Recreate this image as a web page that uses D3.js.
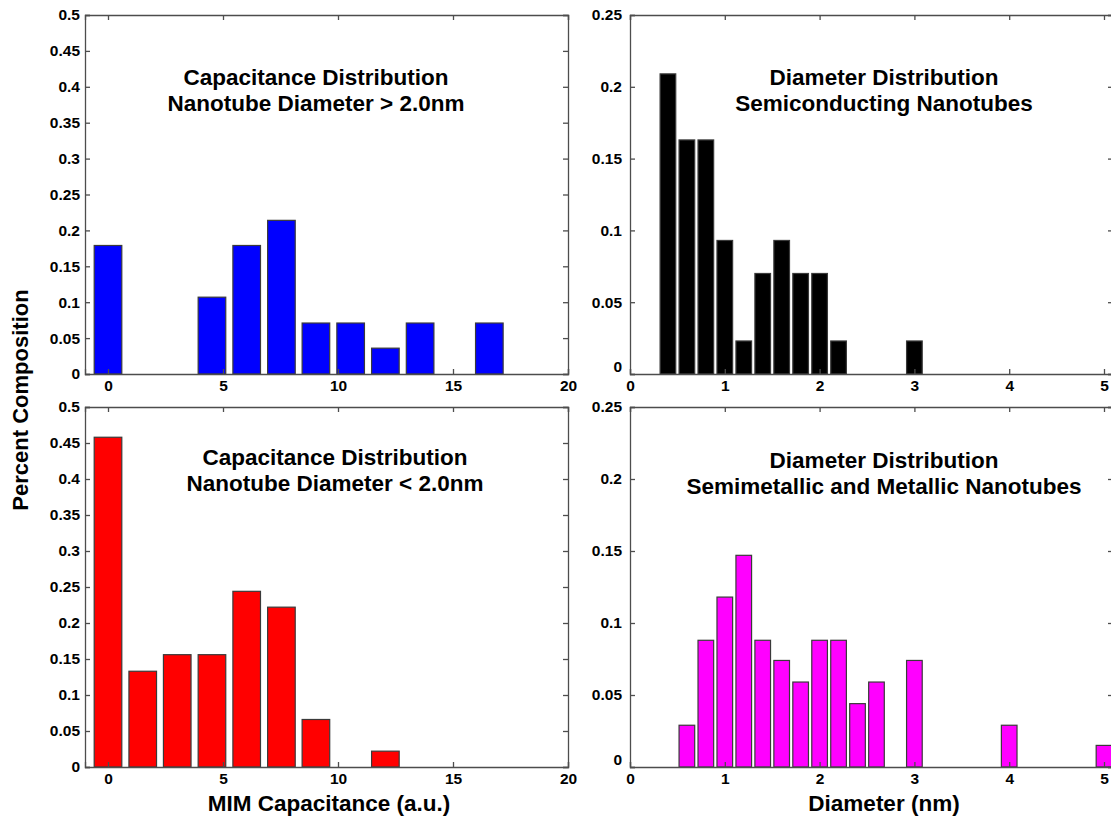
<!DOCTYPE html>
<html>
<head>
<meta charset="utf-8">
<script src="https://cdn.jsdelivr.net/npm/d3@7"></script>
<style>
  html, body { margin: 0; padding: 0; background: #fff; overflow: hidden; }
  svg { display: block; font-family: "Liberation Sans", Arial, sans-serif; }
</style>
</head>
<body>
<svg id="chart" width="1111" height="818"></svg>
<script>
// ---------- data ----------
const capBins = [0, 1.51, 3.01, 4.52, 6.03, 7.54, 9.04, 10.55, 12.06, 13.57, 15.07, 16.58];
const capLarge = [0.179, 0, 0, 0.107, 0.179, 0.214, 0.071, 0.071, 0.036, 0.071, 0, 0.071];
const capSmall = [0.458, 0.133, 0.156, 0.156, 0.244, 0.222, 0.066, 0, 0.022, 0, 0, 0];

const semiX = [0.4, 0.6, 0.8, 1.0, 1.2, 1.4, 1.6, 1.8, 2.0, 2.2, 3.0];
const semiY = [0.209, 0.163, 0.163, 0.093, 0.023, 0.070, 0.093, 0.070, 0.070, 0.023, 0.023];

const metX = [0.6, 0.8, 1.0, 1.2, 1.4, 1.6, 1.8, 2.0, 2.2, 2.4, 2.6, 3.0, 4.0, 5.0];
const metY = [0.029, 0.088, 0.118, 0.147, 0.088, 0.074, 0.059, 0.088, 0.088, 0.044, 0.059, 0.074, 0.029, 0.015];

const capXTicks = [0, 5, 10, 15, 20];
const diamXTicks = [0, 1, 2, 3, 4, 5];
const capYTicks = [0, 0.05, 0.1, 0.15, 0.2, 0.25, 0.3, 0.35, 0.4, 0.45, 0.5];
const diamYTicks = [0, 0.05, 0.1, 0.15, 0.2, 0.25];

const titles = {
  tl: ["Capacitance Distribution", "Nanotube Diameter > 2.0nm"],
  tr: ["Diameter Distribution", "Semiconducting Nanotubes"],
  bl: ["Capacitance Distribution", "Nanotube Diameter < 2.0nm"],
  br: ["Diameter Distribution", "Semimetallic and Metallic Nanotubes"]
};
const yLabel = "Percent Composition";
const xLabelCap = "MIM Capacitance (a.u.)";
const xLabelDiam = "Diameter (nm)";

// ---------- drawing ----------
const svg = d3.select("#chart");
const axisColor = "#4d4d4d";
const titleSize = 22.5;

function panel(cfg) {
  const {left, right, top, bottom, xDomain, yDomain, xTicks, yTicks, xs, ys, barW, color, title, titleX, titleY, zeroShift} = cfg;
  const x = d3.scaleLinear().domain(xDomain).range([left, right]);
  const y = d3.scaleLinear().domain(yDomain).range([bottom, top]);
  const g = svg.append("g");

  // bars
  const data = xs.map((v, i) => ({x: v, y: ys[i]})).filter(d => d.y > 0);
  g.selectAll("rect.bar").data(data).join("rect")
    .attr("class", "bar")
    .attr("x", d => x(d.x - barW / 2))
    .attr("width", d => x(d.x + barW / 2) - x(d.x - barW / 2))
    .attr("y", d => y(d.y))
    .attr("height", d => y(0) - y(d.y))
    .attr("fill", color)
    .attr("stroke", "#3a3a3a")
    .attr("stroke-width", 1.2);

  const tickLen = 5;
  const fmt = d => String(d);
  const bottomAx = g.append("g").attr("transform", `translate(0,${bottom})`)
    .call(d3.axisBottom(x).tickValues(xTicks).tickSize(-tickLen).tickPadding(6).tickFormat(fmt));
  const topAx = g.append("g").attr("transform", `translate(0,${top})`)
    .call(d3.axisTop(x).tickValues(xTicks).tickSize(-tickLen).tickFormat(""));
  const leftAx = g.append("g").attr("transform", `translate(${left},0)`)
    .call(d3.axisLeft(y).tickValues(yTicks).tickSize(-tickLen).tickPadding(zeroShift ? 8 : 5).tickFormat(fmt));
  const rightAx = g.append("g").attr("transform", `translate(${right},0)`)
    .call(d3.axisRight(y).tickValues(yTicks).tickSize(-tickLen).tickFormat(""));

  [bottomAx, topAx, leftAx, rightAx].forEach(a => {
    a.select(".domain").attr("stroke", axisColor).attr("stroke-width", 1.3);
    a.selectAll(".tick line").attr("stroke", axisColor).attr("stroke-width", 1.3);
    a.selectAll("text").attr("fill", "#000").attr("font-size", 15.5).attr("font-weight", "bold")
      .attr("font-family", "'Liberation Sans', Arial, sans-serif");
  });
  if (zeroShift) {
    leftAx.selectAll(".tick").filter(d => d === 0).select("text").attr("dy", "-0.15em");
  }

  // title
  g.append("text").attr("x", titleX).attr("y", titleY).attr("text-anchor", "middle")
    .attr("font-size", titleSize).attr("font-weight", "bold").text(title[0]);
  g.append("text").attr("x", titleX).attr("y", titleY + 26).attr("text-anchor", "middle")
    .attr("font-size", titleSize).attr("font-weight", "bold").text(title[1]);
}

panel({left: 85, right: 568, top: 15, bottom: 374, xDomain: [-1, 20], yDomain: [0, 0.5],
  xTicks: capXTicks, yTicks: capYTicks, xs: capBins, ys: capLarge, barW: 1.2, color: "#0000ff",
  title: titles.tl, titleX: 316, titleY: 85});
panel({left: 85, right: 568, top: 407, bottom: 767, xDomain: [-1, 20], yDomain: [0, 0.5],
  xTicks: capXTicks, yTicks: capYTicks, xs: capBins, ys: capSmall, barW: 1.2, color: "#ff0000",
  title: titles.bl, titleX: 335, titleY: 465});
panel({left: 630, right: 1113, top: 15, bottom: 374, xDomain: [0, 5.095], yDomain: [0, 0.25],
  xTicks: diamXTicks, yTicks: diamYTicks, xs: semiX, ys: semiY, barW: 0.165, color: "#000000",
  title: titles.tr, titleX: 884, titleY: 85, zeroShift: true});
panel({left: 630, right: 1113, top: 407, bottom: 767, xDomain: [0, 5.095], yDomain: [0, 0.25],
  xTicks: diamXTicks, yTicks: diamYTicks, xs: metX, ys: metY, barW: 0.165, color: "#ff00ff",
  title: titles.br, titleX: 884, titleY: 468, zeroShift: true});

// axis labels
svg.append("text").attr("transform", "translate(28,400) rotate(-90)").attr("text-anchor", "middle")
  .attr("font-size", 22).attr("font-weight", "bold").text(yLabel);
svg.append("text").attr("x", 329).attr("y", 811).attr("text-anchor", "middle")
  .attr("font-size", 22.5).attr("font-weight", "bold").text(xLabelCap);
svg.append("text").attr("x", 884).attr("y", 811).attr("text-anchor", "middle")
  .attr("font-size", 22.5).attr("font-weight", "bold").text(xLabelDiam);
</script>
</body>
</html>
